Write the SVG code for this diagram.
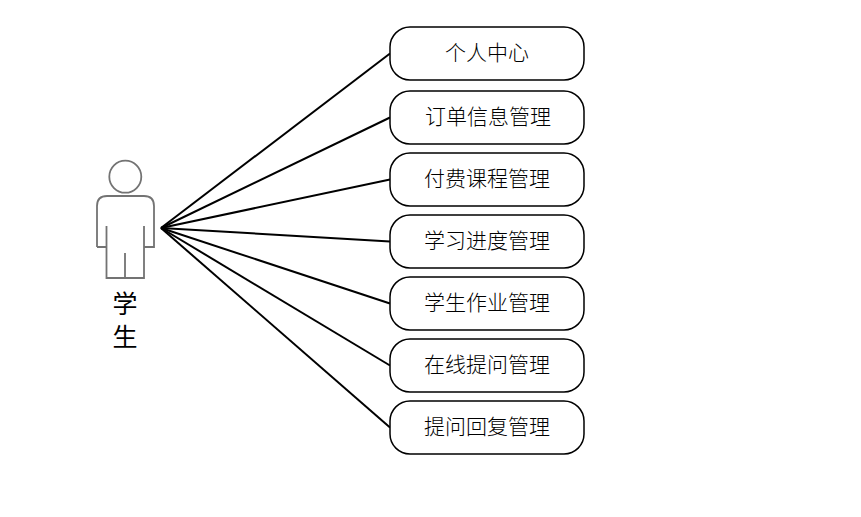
<svg xmlns="http://www.w3.org/2000/svg" width="861" height="517" viewBox="0 0 861 517">
<style>
.box{fill:#fff;stroke:#000;stroke-width:1.5}
.lbl{font-family:"Noto Sans CJK SC","Noto Sans CJK JP",sans-serif;font-size:21px;fill:#000;text-anchor:middle;font-weight:300}
.act{fill:none;stroke:#737373;stroke-width:1.8}
.con{stroke:#000;stroke-width:2;fill:none}
.big{font-family:"Noto Sans CJK SC","Noto Sans CJK JP",sans-serif;font-size:25px;fill:#000;text-anchor:middle}
</style>
<rect width="861" height="517" fill="#fff"/>
<g id="connectors">
<line class="con" x1="161" y1="228" x2="390" y2="53.500"/>
<line class="con" x1="161" y1="228" x2="390" y2="117.500"/>
<line class="con" x1="161" y1="228" x2="390" y2="179.500"/>
<line class="con" x1="161" y1="228" x2="390" y2="241.500"/>
<line class="con" x1="161" y1="228" x2="390" y2="303.500"/>
<line class="con" x1="161" y1="228" x2="390" y2="365.500"/>
<line class="con" x1="161" y1="228" x2="390" y2="427.500"/>
</g>
<g id="actor">
<circle class="act" cx="125.300" cy="176.700" r="16"/>
<path class="act" d="M97 247V206Q97 196 107 196H144Q154 196 154 206V247H144M97 247H106.500M106.500 226V278H144V226M125 253V278"/>
<text class="big" x="125" y="313">学</text>
<text class="big" x="125" y="346">生</text>
</g>
<g id="n1"><rect class="box" x="390" y="27" width="194" height="53" rx="20"/><text class="lbl" x="487" y="60">个人中心</text></g>
<g id="n2"><rect class="box" x="390" y="91" width="194" height="53" rx="20"/><text class="lbl" x="488" y="124">订单信息管理</text></g>
<g id="n3"><rect class="box" x="390" y="153" width="194" height="53" rx="20"/><text class="lbl" x="487" y="186">付费课程管理</text></g>
<g id="n4"><rect class="box" x="390" y="215" width="194" height="53" rx="20"/><text class="lbl" x="487" y="248">学习进度管理</text></g>
<g id="n5"><rect class="box" x="390" y="277" width="194" height="53" rx="20"/><text class="lbl" x="487" y="310">学生作业管理</text></g>
<g id="n6"><rect class="box" x="390" y="339" width="194" height="53" rx="20"/><text class="lbl" x="487" y="372">在线提问管理</text></g>
<g id="n7"><rect class="box" x="390" y="401" width="194" height="53" rx="20"/><text class="lbl" x="487" y="434">提问回复管理</text></g>
</svg>
